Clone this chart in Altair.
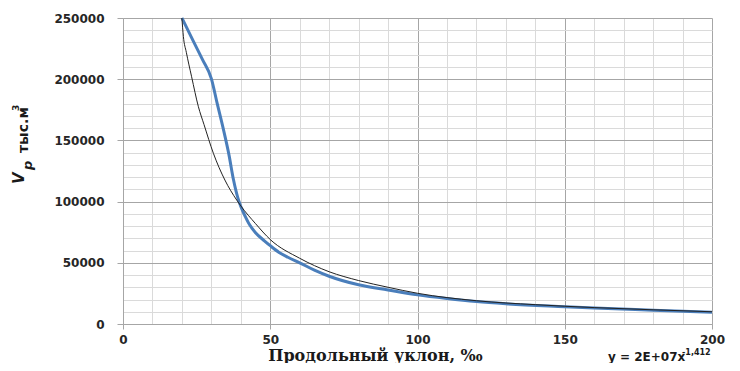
import altair as alt
import pandas as pd

# Data
blue_x = [20, 24, 27, 30, 32, 34, 36, 37.5, 39, 40, 41.5, 43, 45, 48, 50, 53, 56, 60, 65, 70, 80, 90, 100, 110, 120, 130, 150, 160, 180, 200]
blue_y = [250000, 230500, 216000, 200500, 180000, 160000, 138000, 118000, 103000, 96000, 88000, 81000, 74500, 68000, 64000, 58500, 54500, 50000, 44000, 39000, 32000, 27800, 23800, 20800, 18300, 16500, 14100, 13000, 11300, 9600]

trend_x = [20, 20.5, 21.5, 23.3, 25.6, 27.5, 30.7, 34.6, 38.6, 40, 45, 50, 60, 70, 80, 90, 100, 120, 140, 160, 180, 200]
trend_y = [250000, 235000, 222000, 202000, 177500, 163000, 139400, 117600, 101300, 96500, 82000, 69000, 53700, 42700, 35500, 30000, 25100, 19000, 15800, 13400, 11600, 10000]

x_ticks = list(range(0, 201, 10))
y_ticks = list(range(0, 250001, 10000))

x_title = "Продольный уклон, ‰"
y_title_parts = ["V", "р", "тыс.м", "3"]
eq_text = "y = 2E+07x"
eq_exp = "-1,412"
r2_text = "R² = 0,9896"

FONT = "DejaVu Sans"
LABEL_COLOR = "#262626"
MAJOR = "#a6a6a6"
MINOR = "#dadada"

line_df = pd.DataFrame({"x": blue_x, "y": blue_y})
trend_df = pd.DataFrame({"x": trend_x, "y": trend_y})

x_axis = alt.Axis(
    values=x_ticks,
    labelExpr="datum.value % 50 === 0 ? datum.label : ''",
    labelOverlap=False, labelFlush=False, labelBound=False,
    gridColor={"condition": {"test": "datum.value % 50 === 0", "value": MAJOR}, "value": MINOR},
    tickOpacity={"condition": {"test": "datum.value % 50 === 0", "value": 1}, "value": 0},
    tickColor=MAJOR, tickSize=5, domainColor=MAJOR,
    labelFont=FONT, labelFontWeight="bold", labelFontSize=12, labelColor=LABEL_COLOR,
    labelPadding=5,
    title=x_title, titleFont="DejaVu Serif", titleFontWeight="bold", titleFontSize=16,
    titleColor="#1a1a1a", titleX=252, titleY=36, titleBaseline="alphabetic", titleAlign="center",
)
y_axis = alt.Axis(
    values=y_ticks,
    labelExpr="datum.value % 50000 === 0 ? datum.label : ''",
    labelOverlap=False, labelFlush=False, labelBound=False,
    gridColor={"condition": {"test": "datum.value % 50000 === 0", "value": MAJOR}, "value": MINOR},
    tickOpacity={"condition": {"test": "datum.value % 50000 === 0", "value": 1}, "value": 0},
    tickColor=MAJOR, tickSize=6, domainColor=MAJOR,
    labelFont=FONT, labelFontWeight="bold", labelFontSize=12, labelColor=LABEL_COLOR,
    labelPadding=13, format="d", title=None,
)

xs = alt.Scale(domain=[0, 200], nice=False)
ys = alt.Scale(domain=[0, 250000], nice=False)

blue = alt.Chart(line_df).mark_line(color="#4a7ebb", strokeWidth=3, interpolate="monotone").encode(
    x=alt.X("x:Q", scale=xs, axis=x_axis),
    y=alt.Y("y:Q", scale=ys, axis=y_axis),
)
trend = alt.Chart(trend_df).mark_line(color="#222222", strokeWidth=1, interpolate="monotone").encode(
    x=alt.X("x:Q", scale=xs, axis=x_axis),
    y=alt.Y("y:Q", scale=ys, axis=y_axis),
)


def label(text, px, py, size, weight="bold", style="normal", angle=0, font=FONT):
    df = pd.DataFrame({"t": [text]})
    return alt.Chart(df).mark_text(
        font=font, fontSize=size, fontWeight=weight, fontStyle=style, angle=angle,
        align="left", baseline="alphabetic", color="#1a1a1a",
    ).encode(x=alt.value(px), y=alt.value(py), text="t:N")


# y title pieces (rotated), positions relative to plot origin (123, 18)
OX, OY = 123, 18
yt = [
    label(y_title_parts[0], 24 - OX, 184 - OY, 15, style="italic", angle=270),
    label(y_title_parts[1], 32 - OX, 170 - OY, 13, style="italic", angle=270),
    label(y_title_parts[2], 28 - OX, 153 - OY, 14, angle=270),
    label(y_title_parts[3], 19 - OX, 111 - OY, 9, angle=270),
]
eq = [
    label(eq_text, 608 - OX, 361 - OY, 12),
    label(eq_exp, 682 - OX, 355 - OY, 8),
    label(r2_text, 645 - OX, 372 - OY, 11),
]

chart = alt.layer(blue, trend, *yt, *eq).properties(
    width=589, height=306,
    padding={"left": 115, "top": 10, "right": 20, "bottom": 39},
    autosize=alt.AutoSizeParams(type="none"),
).configure_view(stroke=None)

chart.save("out.html", embed_options={"renderer": "svg", "actions": False})
